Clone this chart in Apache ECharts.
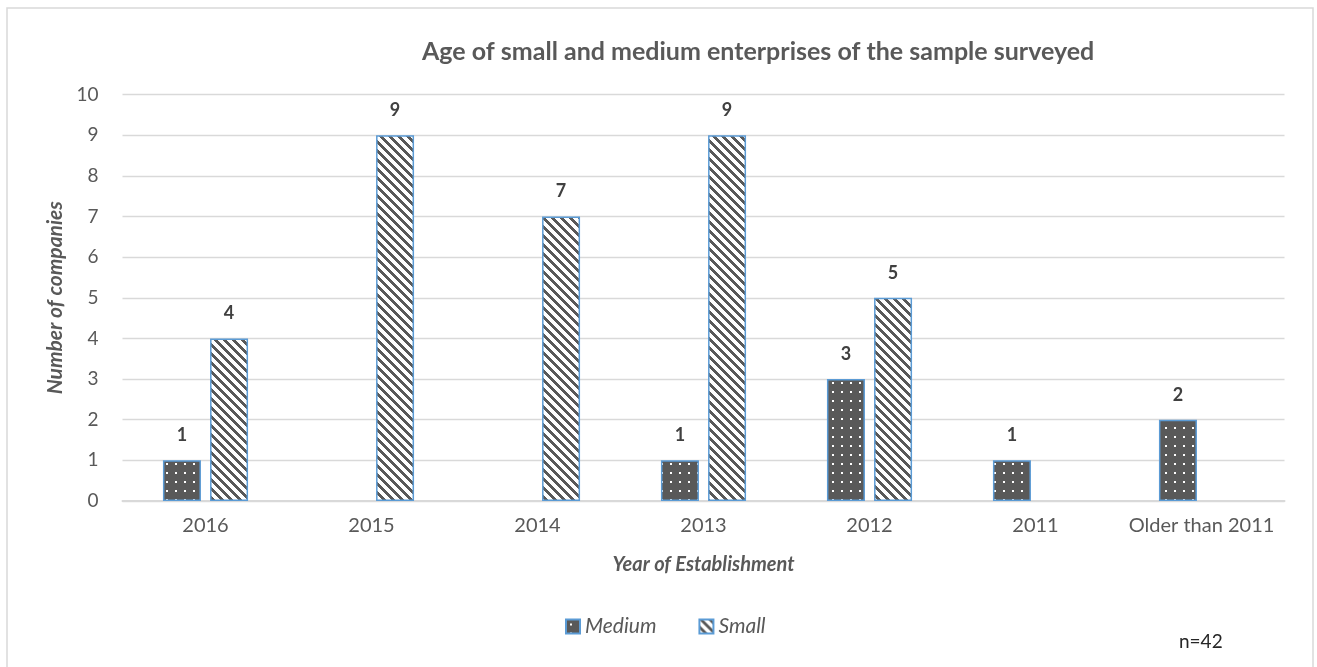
<!DOCTYPE html>
<html>
<head>
<meta charset="utf-8">
<script src="https://cdn.jsdelivr.net/npm/echarts@6/dist/echarts.min.js"></script>
<style>
  html, body { margin: 0; padding: 0; background: #fff; }
  #main { width: 1317px; height: 667px; }
</style>
</head>
<body>
<div id="main"></div>
<script>
var years = ['2016', '2015', '2014', '2013', '2012', '2011', 'Older than 2011'];
var medium = [1, null, null, 1, 3, 1, 2];
var small = [4, 9, 7, 9, 5, null, null];
var yTicks = [0, 10, 1]; // min, max, interval

// fill patterns drawn on small tiles
function makePattern(kind) {
    var c = document.createElement('canvas');
    c.width = 9;
    c.height = 9;
    var ctx = c.getContext('2d');
    if (kind === 'dots') {
        ctx.fillStyle = '#595959';
        ctx.fillRect(0, 0, 9, 9);
        ctx.fillStyle = '#ffffff';
        ctx.fillRect(4, 4, 2, 2);
    } else {
        ctx.fillStyle = '#ffffff';
        ctx.fillRect(0, 0, 9, 9);
        ctx.fillStyle = '#595959';
        for (var y = 0; y < 9; y++) {
            for (var x = 0; x < 9; x++) {
                if ((x - y + 9) % 9 < 4) ctx.fillRect(x, y, 1, 1);
            }
        }
    }
    return { image: c, repeat: 'repeat' };
}

var labelStyle = {
    show: true,
    position: 'top',
    distance: 16,
    fontFamily: 'Lato',
    fontWeight: 'bold',
    fontSize: 18,
    color: '#404040'
};

var myChart = echarts.init(document.getElementById('main'));
var option = {
    animation: false,
    title: {
        text: 'Age of small and medium enterprises of the sample surveyed',
        left: 417,
        top: 34,
        textStyle: { fontFamily: 'Lato', fontWeight: 'bold', fontSize: 25, color: '#595959' }
    },
    legend: {
        data: ['Medium', 'Small'],
        left: 560,
        top: 611,
        itemWidth: 14,
        itemHeight: 14,
        itemGap: 42,
        icon: 'rect',
        textStyle: { fontFamily: 'Lato', fontStyle: 'italic', fontSize: 21, color: '#595959' }
    },
    grid: { left: 122.5, right: 32.5, top: 94.5, bottom: 166 },
    xAxis: {
        type: 'category',
        data: years,
        name: 'Year of Establishment',
        nameLocation: 'middle',
        nameGap: 54,
        nameTextStyle: { fontFamily: 'Lato', fontWeight: 'bold', fontStyle: 'italic', fontSize: 20, color: '#595959' },
        axisLine: { lineStyle: { color: '#d9d9d9', width: 2 } },
        axisTick: { show: false },
        axisLabel: { interval: 0, margin: 15, fontFamily: 'Lato', fontSize: 20, color: '#595959' }
    },
    yAxis: {
        type: 'value',
        min: yTicks[0],
        max: yTicks[1],
        interval: yTicks[2],
        name: 'Number of companies',
        nameLocation: 'middle',
        nameGap: 56,
        nameTextStyle: { fontFamily: 'Lato', fontWeight: 'bold', fontStyle: 'italic', fontSize: 21, color: '#595959' },
        axisLine: { show: false },
        axisTick: { show: false },
        axisLabel: { margin: 24, fontFamily: 'Lato', fontSize: 19, color: '#595959' },
        splitLine: { lineStyle: { color: '#d9d9d9', width: 1.3 } }
    },
    series: [
        {
            name: 'Medium',
            type: 'bar',
            data: medium,
            barWidth: 38,
            barGap: '24%',
            itemStyle: { color: makePattern('dots'), borderColor: '#5b9bd5', borderWidth: 1.5 },
            label: labelStyle
        },
        {
            name: 'Small',
            type: 'bar',
            data: small,
            barWidth: 38,
            itemStyle: { color: makePattern('stripes'), borderColor: '#5b9bd5', borderWidth: 1.5 },
            label: labelStyle
        }
    ],
    graphic: [
        {
            type: 'rect',
            shape: { x: 7, y: 8, width: 1306, height: 680 },
            style: { fill: 'none', stroke: '#d9d9d9', lineWidth: 1.5 },
            silent: true
        },
        {
            type: 'text',
            left: 1179,
            top: 632,
            style: { text: 'n=42', font: '19px Lato', fill: '#262626' }
        }
    ]
};
myChart.setOption(option);
</script>
</body>
</html>
